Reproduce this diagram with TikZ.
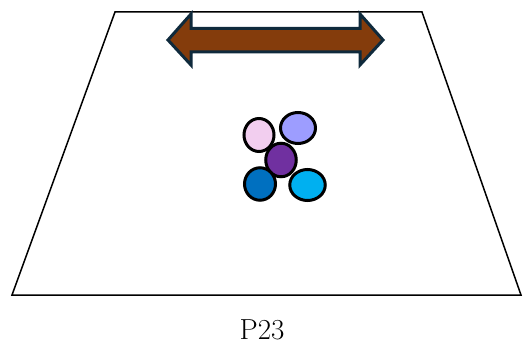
\documentclass[tikz,border=0pt]{standalone}
\usetikzlibrary{shapes.geometric}
\definecolor{ink}{HTML}{000000}
\definecolor{rim}{HTML}{0F2A3C}
\definecolor{rust}{HTML}{843C0C}
\definecolor{blush}{HTML}{F2CEEF}
\definecolor{lilac}{HTML}{9D9DFF}
\definecolor{plum}{HTML}{7030A0}
\definecolor{ocean}{HTML}{0070C0}
\definecolor{sky}{HTML}{00B0F0}

\begin{document}
\begin{tikzpicture}[x=1pt,y=-1pt,
  every node/.style={text=ink,inner sep=0pt},
  plane/.style={draw=ink,line width=1.5pt,line join=miter},
  shift arrow/.style={draw=rim,fill=rust,line width=3pt,line join=miter},
  bead/.style={ellipse,draw=ink,line width=3pt,inner sep=0pt},
  caption/.style={font=\fontsize{29}{34}\selectfont,anchor=base}]
\useasboundingbox (0,0) rectangle (523,345);

% -------------------------------------------------------------------------
% Ground plane seen in perspective.
% -------------------------------------------------------------------------
\coordinate (tl) at (115,12);
\coordinate (tr) at (422,12);
\coordinate (br) at (521,295);
\coordinate (bl) at (12,295);
\draw[plane] (tl) -- (tr) -- (br) -- (bl) -- cycle;

% -------------------------------------------------------------------------
% Two-headed arrow along the far edge.
% -------------------------------------------------------------------------
\draw[shift arrow] (168,40) -- (191,14) -- (191,28.5) -- (360,28.5)
  -- (360,14) -- (383,40) -- (360,65) -- (360,52) -- (191,52)
  -- (191,65) -- cycle;

% -------------------------------------------------------------------------
% Cluster of beads in the middle.
% -------------------------------------------------------------------------
\node[bead,fill=blush,minimum width=30pt,minimum height=33pt] (pink) at (259,135) {};
\node[bead,fill=lilac,minimum width=35pt,minimum height=31pt] (lilac) at (298,128) {};
\node[bead,fill=plum,minimum width=30.5pt,minimum height=33.5pt] (mid) at (281,160) {};
\node[bead,fill=ocean,minimum width=31pt,minimum height=32.5pt] (blue) at (260,184) {};
\node[bead,fill=sky,minimum width=35.5pt,minimum height=31pt] (cyan) at (307.5,185) {};

\node[caption] (label) at (262,339) {P23};
\end{tikzpicture}
\end{document}
